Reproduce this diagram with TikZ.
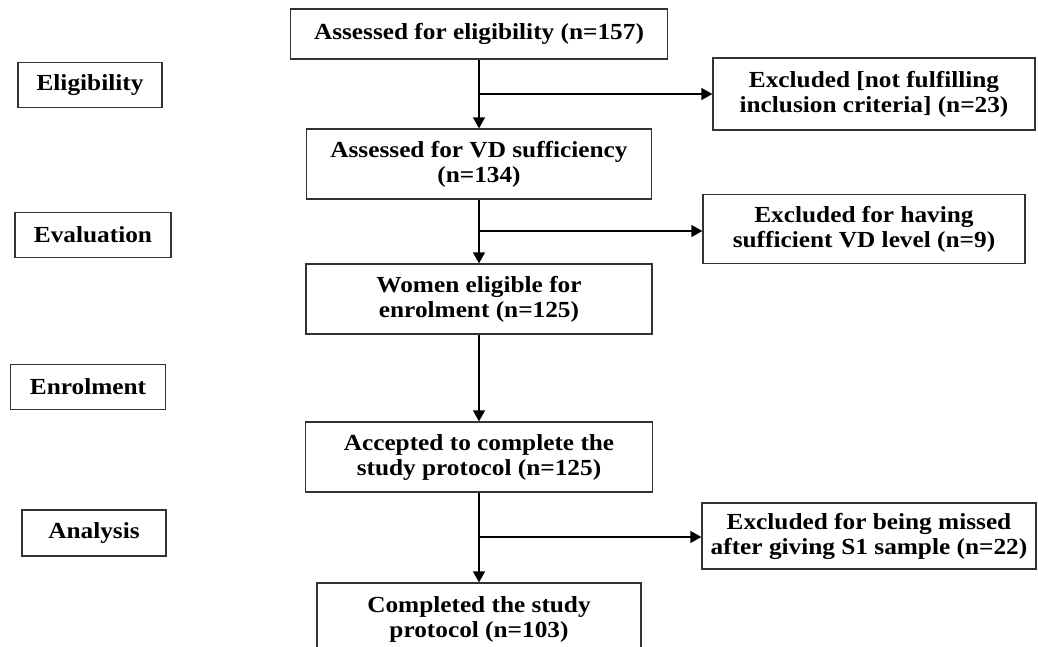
\documentclass[tikz,border=0pt]{standalone}
\usepackage{fontspec}
\setmainfont[FakeStretch=1.1]{Liberation Serif}
\usepackage{tikz}
\usetikzlibrary{shapes, calc, positioning, arrows.meta}

\begin{document}
\begin{tikzpicture}[x=1pt,y=-1pt,every node/.style={align=center,draw, rectangle, line width=1.3pt, draw=black!80, font=\fontsize{23}{25}\selectfont\bfseries, inner sep=2pt,},
  arr/.style={line width=1.3pt, -{Triangle[width=12pt,length=11pt]}}]
 \useasboundingbox (0,0) rectangle (1038,646);
 % main column
 \node[minimum width=377pt, minimum height=50pt] (elig) at (479,34) {Assessed for eligibility (n=157)};
 \node[minimum width=345pt, minimum height=70pt] (vd) at (479,164) {Assessed for VD sufficiency\\(n=134)};
 \node[minimum width=346pt, minimum height=70pt] (women) at (479,299) {Women eligible for\\enrolment (n=125)};
 \node[minimum width=347pt, minimum height=70pt] (acc) at (479,457) {Accepted to complete the\\study protocol (n=125)};
 \node[minimum width=324pt, minimum height=72pt] (compl) at (479,619) {Completed the study\\protocol (n=103)};
 % excluded
 \node[minimum width=322pt, minimum height=72pt] (exc1) at (874,94) {Excluded [not fulfilling\\inclusion criteria] (n=23)};
 \node[minimum width=322pt, minimum height=69pt] (exc2) at (864,229) {Excluded for having\\sufficient VD level (n=9)};
 \node[minimum width=334pt, minimum height=66pt] (exc3) at (869,536) {Excluded for being missed\\after giving S1 sample (n=22)};
 % stages
 \node[minimum width=144pt, minimum height=45pt] (seli) at (90,85) {Eligibility};
 \node[minimum width=156pt, minimum height=45pt] (seva) at (93,235) {Evaluation};
 \node[minimum width=155pt, minimum height=45pt] (senr) at (88,387) {Enrolment};
 \node[minimum width=144pt, minimum height=46pt] (sana) at (94,533) {Analysis};
 % arrows
 \coordinate (b1) at (479,94);
 \coordinate (b2) at (479,231);
 \coordinate (b3) at (479,537);
 \draw[arr] (elig) -- (vd);
 \draw[arr] (vd) -- (women);
 \draw[arr] (women) -- (acc);
 \draw[arr] (acc) -- (compl);
 \draw[arr] (b1) -- (b1 -| exc1.west);
 \draw[arr] (b2) -- (b2 -| exc2.west);
 \draw[arr] (b3) -- (b3 -| exc3.west);
\end{tikzpicture}
\end{document}
